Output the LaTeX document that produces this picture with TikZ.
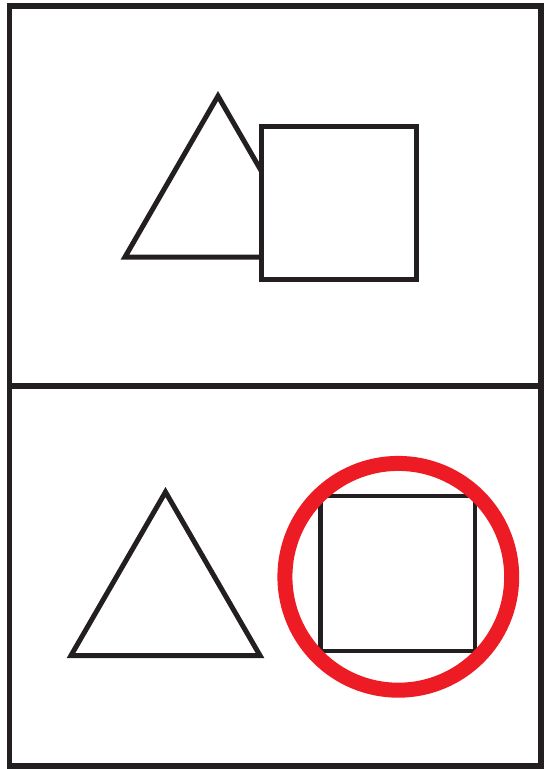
\documentclass[tikz,border=0pt]{standalone}
\definecolor{ink}{HTML}{231F20}
\definecolor{redmark}{HTML}{ED1C24}
\tikzset{outline/.style={draw=ink,line width=5pt,fill=white,line join=miter},
frame/.style={draw=ink,line width=5.5pt}}
\begin{document}
\begin{tikzpicture}[x=1pt,y=-1pt]
\useasboundingbox (0,0) rectangle (548,769);
\draw[frame] (9.5,6) rectangle (541,766);
\draw[frame] (9.5,386) -- (541,386);
% top panel
\draw[outline] (218,96) -- (311,257) -- (125,257) -- cycle;
\draw[outline] (261.5,126) rectangle (416,279);
% bottom panel
\draw[outline] (165.5,492) -- (260,655.5) -- (71,655.5) -- cycle;
\draw[outline,line width=4.8pt] (320.5,496) rectangle (475,651);
\draw[draw=redmark,line width=15pt] (398.3,576.8) circle (113.4);
\end{tikzpicture}
\end{document}
